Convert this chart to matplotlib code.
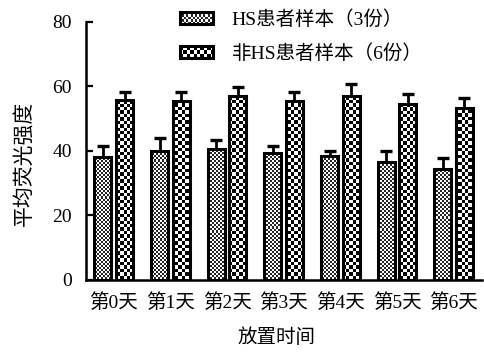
import numpy as np
import matplotlib
matplotlib.use("Agg")
import matplotlib.pyplot as plt
from matplotlib.patches import Rectangle
from matplotlib.legend_handler import HandlerBase
from matplotlib.image import BboxImage
from matplotlib.transforms import Bbox, TransformedBbox
from matplotlib.colors import Normalize

plt.rcParams['font.family'] = ['Liberation Serif', 'Noto Sans CJK SC', 'DejaVu Sans']

# ---- data ----
days = ['第0天', '第1天', '第2天', '第3天', '第4天', '第5天', '第6天']
hs_mean = [38.2, 39.8, 40.5, 39.3, 38.5, 36.5, 34.4]
hs_err = [3.4, 4.1, 2.8, 2.1, 1.4, 3.3, 3.5]
non_mean = [55.8, 55.4, 57.0, 55.4, 57.0, 54.6, 53.2]
non_err = [2.6, 3.0, 2.9, 2.7, 3.6, 3.1, 3.2]
labels = ['HS患者样本（3份）', '非HS患者样本（6份）']
yticks = [0, 20, 40, 60, 80]


def checker(nx, ny, dark):
    ii, jj = np.indices((ny, nx))
    return np.where((ii + jj) % 2 == 0, dark, 1.0)


W, H = 484, 352
fig = plt.figure(figsize=(W / 100, H / 100), dpi=100)
ax_l, ax_b, ax_w, ax_h = 86, 72.5, 396, 257.5
ax = fig.add_axes([ax_l / W, ax_b / H, ax_w / W, ax_h / H])

x = np.arange(len(days))
bw = 0.30
off = 0.19
xlim = (-0.49, 6.5)
ylim = (0, 80)

edge_kw = dict(facecolor='none', edgecolor='black', linewidth=2.2, zorder=3)
bars_hs = ax.bar(x - off, hs_mean, bw, **edge_kw)
bars_non = ax.bar(x + off, non_mean, bw, **edge_kw)

# textured fills, clipped to each bar
tex_hs = checker(int(ax_w / 2), int(ax_h / 2), 0.15)
tex_non = checker(int(ax_w / 3.4), int(ax_h / 3.4), 0.0)
norm = Normalize(0, 1)
for bars, tex in ((bars_hs, tex_hs), (bars_non, tex_non)):
    for p in bars:
        im = ax.imshow(tex, cmap='gray', norm=norm, extent=(*xlim, *ylim),
                       origin='lower', aspect='auto', interpolation='nearest',
                       zorder=2)
        im.set_clip_path(p)

# upper error bars only
for xs, m, e in ((x - off, hs_mean, hs_err), (x + off, non_mean, non_err)):
    _, caps, _ = ax.errorbar(xs, m, yerr=[np.zeros(len(m)), e], fmt='none',
                             ecolor='black', elinewidth=2.0, capsize=4,
                             capthick=2.4, zorder=4)
    for c in caps:
        if np.allclose(c.get_ydata(), m):
            c.set_visible(False)

ax.set_xlim(*xlim)
ax.set_ylim(*ylim)
ax.set_yticks(yticks)
ax.set_xticks(x)
ax.set_xticklabels(days, fontsize=14)
ax.tick_params(axis='y', direction='in', length=5, width=1.6, labelsize=14, pad=10)
ax.tick_params(axis='x', length=0, pad=10)
for s in ('top', 'right'):
    ax.spines[s].set_visible(False)
for s in ('left', 'bottom'):
    ax.spines[s].set_linewidth(1.8)

ax.set_ylabel('平均荧光强度', fontsize=15, va='center')
ax.yaxis.set_label_coords(-0.155, 0.452)
ax.set_xlabel('放置时间', fontsize=14, va='center')
ax.xaxis.set_label_coords(0.482, -0.225)


class TextureHandler(HandlerBase):
    def __init__(self, data):
        super().__init__()
        self.data = data

    def create_artists(self, legend, orig_handle, xdescent, ydescent,
                       width, height, fontsize, trans):
        bb = TransformedBbox(Bbox.from_bounds(-xdescent, -ydescent, width, height), trans)
        img = BboxImage(bb, cmap='gray', norm=Normalize(0, 1), interpolation='nearest')
        img.set_data(self.data)
        rect = Rectangle((-xdescent, -ydescent), width, height, facecolor='none',
                         edgecolor='black', linewidth=2.2, transform=trans)
        return [img, rect]


h1 = Rectangle((0, 0), 1, 1)
h2 = Rectangle((0, 0), 1, 1)
fig.legend([h1, h2], labels, loc='upper left', bbox_to_anchor=(180 / W, 1 - 10 / H),
           frameon=False, fontsize=14, borderpad=0, borderaxespad=0,
           handlelength=1.7, handleheight=0.57, handletextpad=0.95,
           labelspacing=0.82,
           handler_map={h1: TextureHandler(checker(16, 5, 0.15)),
                        h2: TextureHandler(checker(10, 3, 0.0))})

fig.savefig('out.png', dpi=100)
